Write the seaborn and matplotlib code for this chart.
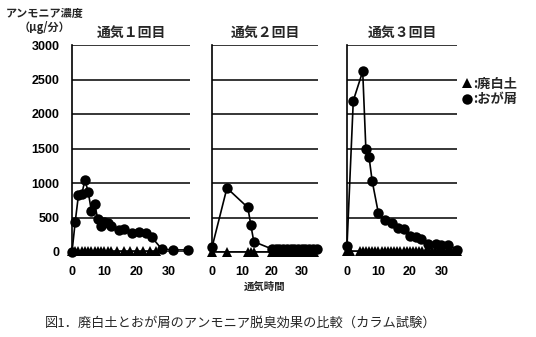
import matplotlib
matplotlib.use("Agg")
import matplotlib.pyplot as plt
import seaborn as sns
import pandas as pd

# ---- data ----
panel_titles = ["通気１回目", "通気２回目", "通気３回目"]
series_labels = [":廃白土", ":おが屑"]

# 通気1回目
t1_circle = [0, 1, 2, 3, 4, 5, 6, 7, 8, 9, 10, 11, 12, 14.5, 16, 18.5, 20.7, 22.8, 24.7, 27.8, 31.3, 36]
v1_circle = [0, 440, 826, 836, 1040, 875, 595, 695, 474, 380, 440, 415, 380, 320, 335, 280, 285, 270, 213, 40, 30, 30]
t1_tri = [0, 1, 2, 3, 4, 5, 6, 7, 8, 9, 10, 11, 12, 14, 16, 18, 20, 22, 24, 26]
v1_tri = [10, 10, 10, 10, 10, 10, 10, 10, 10, 10, 10, 10, 10, 10, 10, 10, 10, 10, 10, 10]

# 通気2回目
t2_circle = [0, 5, 12, 13, 14, 20, 21.3, 22.5, 23.8, 25, 26.3, 27.5, 28.8, 30, 31.3, 32.5, 33.8, 35]
v2_circle = [67, 927, 645, 392, 150, 45, 50, 45, 50, 40, 45, 40, 45, 40, 40, 45, 40, 40]
t2_tri = [0, 5, 12, 13, 14, 20, 22, 24, 26, 28, 30, 32, 34]
v2_tri = [5, 5, 5, 5, 5, 5, 5, 5, 5, 5, 5, 5, 5]

# 通気3回目
t3_circle = [0, 2, 5, 6, 7, 8, 10, 12, 14.2, 16.3, 18, 20, 22, 23.7, 25.8, 28.2, 30, 32, 35]
v3_circle = [85, 2193, 2618, 1496, 1380, 1032, 559, 461, 422, 348, 330, 231, 217, 183, 120, 110, 105, 105, 32]
t3_tri = [0, 1, 4, 5, 6, 7, 8, 9, 10, 11, 12, 13, 14, 15, 16, 17, 18, 19, 20, 21, 22, 23, 24, 25, 26, 27, 28, 29, 30, 31, 32, 33, 34, 35]
v3_tri = [10] * 34

y_ticks = [0, 500, 1000, 1500, 2000, 2500, 3000]
x_ticks = [0, 10, 20, 30]

circles = [(t1_circle, v1_circle), (t2_circle, v2_circle), (t3_circle, v3_circle)]
tris = [(t1_tri, v1_tri), (t2_tri, v2_tri), (t3_tri, v3_tri)]

# ---- style ----
sns.set_theme(style="white")
plt.rcParams['font.family'] = ['Noto Sans CJK JP', 'DejaVu Sans']

W, H = 536, 337
fig = plt.figure(figsize=(W / 100, H / 100), dpi=100)

# panel pixel boxes: (left, right, xmax)
boxes = [(72, 190, 36.5), (212, 318, 35.5), (347, 457, 35.0)]
top_px, bot_px = 45, 252

axes = []
for i, (l, r, xmax) in enumerate(boxes):
    ax = fig.add_axes([l / W, 1 - bot_px / H, (r - l) / W, (bot_px - top_px) / H])
    axes.append(ax)
    tt, tv = tris[i]
    ct, cv = circles[i]
    dtri = pd.DataFrame({"t": tt, "v": tv})
    dcir = pd.DataFrame({"t": ct, "v": cv})
    sns.lineplot(data=dtri, x="t", y="v", ax=ax, color="black", lw=1.2,
                 marker="^", markersize=7, markeredgewidth=0, estimator=None,
                 sort=False, label=series_labels[0], clip_on=False)
    sns.lineplot(data=dcir, x="t", y="v", ax=ax, color="black", lw=1.2,
                 marker="o", markersize=7.5, markeredgewidth=0, estimator=None,
                 sort=False, label=series_labels[1], clip_on=False)
    ax.set_xlim(0, xmax)
    ax.set_ylim(0, 3000)
    ax.set_yticks(y_ticks)
    ax.set_xticks(x_ticks)
    ax.grid(axis="y", color="black", lw=1.1)
    ax.grid(axis="x", visible=False)
    for s in ["top", "right", "bottom"]:
        ax.spines[s].set_visible(False)
    ax.spines["left"].set_color("black")
    ax.spines["left"].set_linewidth(1.2)
    ax.tick_params(axis="x", length=0, labelsize=9, pad=10, colors="black")
    ax.tick_params(axis="y", length=0, labelsize=9, pad=9, colors="black")
    for lab in ax.get_xticklabels() + ax.get_yticklabels():
        lab.set_fontweight("bold")
        lab.set_family(["Liberation Sans", "DejaVu Sans"])
    if i > 0:
        ax.set_yticklabels([])
    ax.set_xlabel("")
    ax.set_ylabel("")
    ax.set_title(panel_titles[i], fontsize=10, fontweight="bold", pad=6)
    handles, labels = ax.get_legend_handles_labels()
    ax.get_legend().remove()

fig.legend(handles, labels, loc="upper left",
           bbox_to_anchor=(461 / W, 1 - 77 / H), frameon=False,
           handlelength=0.9, handletextpad=0.05, labelspacing=0.1,
           prop={"size": 9.5, "weight": "bold"}, borderaxespad=0, borderpad=0)
for line in fig.legends[0].get_lines():
    line.set_linestyle("none")

fig.text(6 / W, 1 - 13 / H, "アンモニア濃度", fontsize=8, fontweight="bold", va="center", ha="left")
fig.text(45 / W, 1 - 28 / H, "（μg/分）", fontsize=8, fontweight="bold", va="center", ha="center")
fig.text(265 / W, 1 - 287 / H, "通気時間", fontsize=7.5, fontweight="bold", va="center", ha="center")
fig.text(241 / W, 1 - 323 / H, "図1．廃白土とおが屑のアンモニア脱臭効果の比較（カラム試験）",
         fontsize=9.5, va="center", ha="center")

fig.savefig("out.png", dpi=100)
